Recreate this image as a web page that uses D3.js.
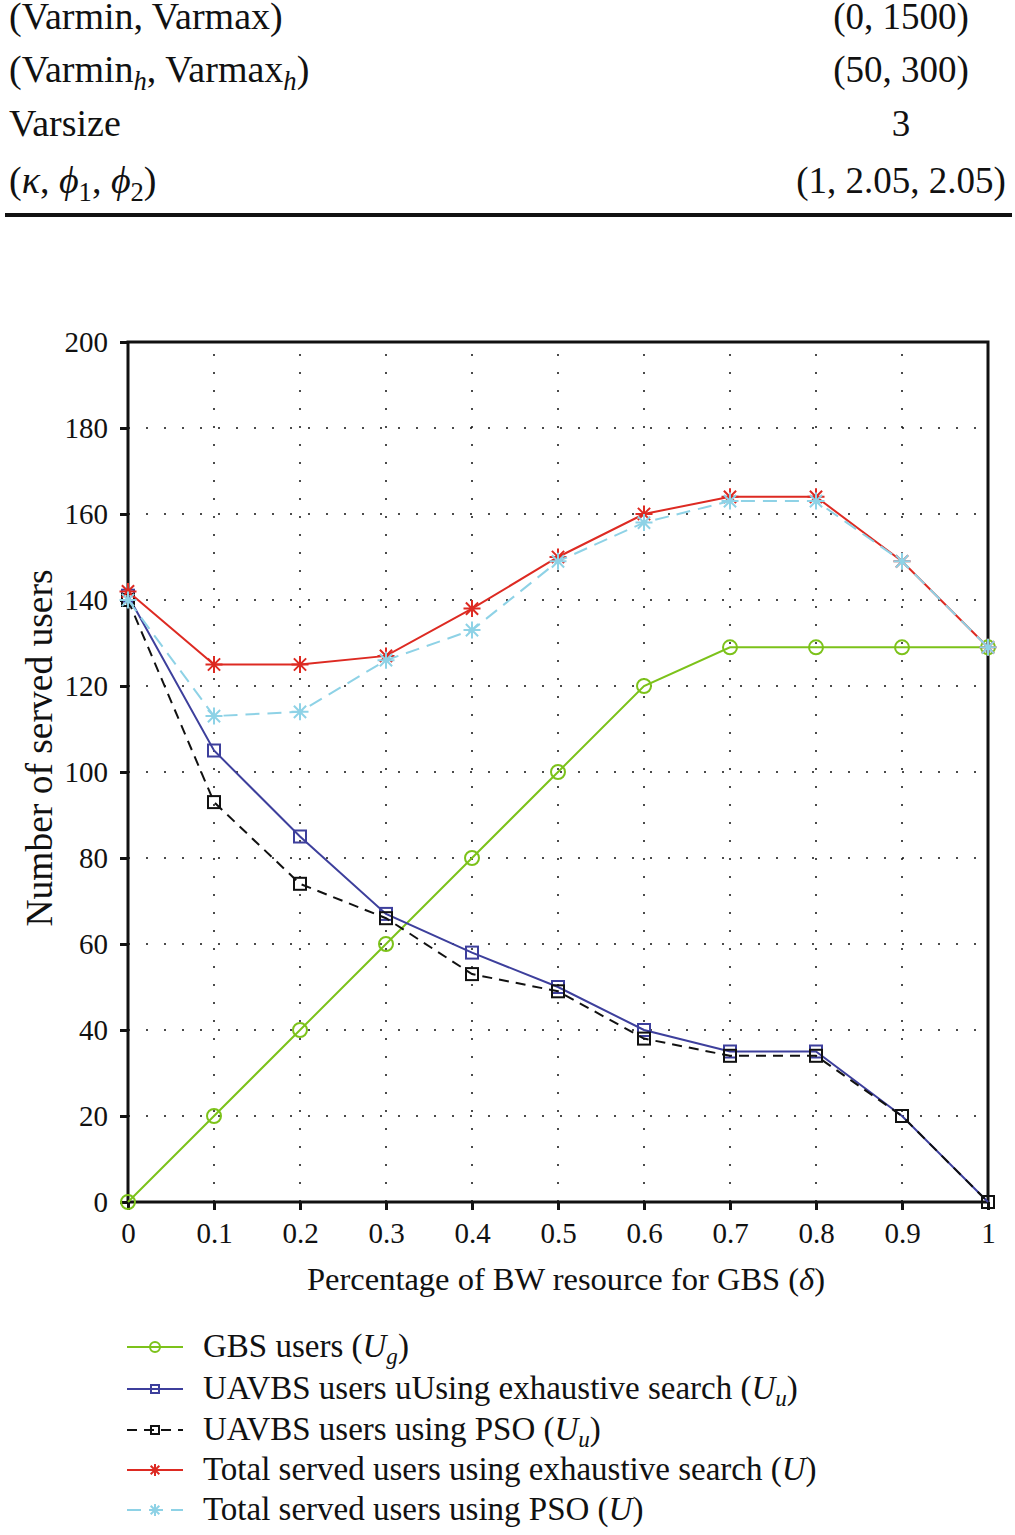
<!DOCTYPE html>
<html>
<head>
<meta charset="utf-8">
<script src="https://cdn.jsdelivr.net/npm/d3@7"></script>
<style>
  body { margin: 0; background: #fff; }
  text { font-family: "Liberation Serif", "Times New Roman", serif; fill: #111; }
</style>
</head>
<body>
<div id="chart"></div>
<script>
// data
var delta = [0, 0.1, 0.2, 0.3, 0.4, 0.5, 0.6, 0.7, 0.8, 0.9, 1];
var gbsUsers = [0, 20, 40, 60, 80, 100, 120, 129, 129, 129, 129];
var uavExh = [141, 105, 85, 67, 58, 50, 40, 35, 35, 20, 0];
var uavPso = [140, 93, 74, 66, 53, 49, 38, 34, 34, 20, 0];
var totalExh = [142, 125, 125, 127, 138, 150, 160, 164, 164, 149, 129];
var totalPso = [140, 113, 114, 126, 133, 149, 158, 163, 163, 149, 129];

var xTicks = [0, 0.1, 0.2, 0.3, 0.4, 0.5, 0.6, 0.7, 0.8, 0.9, 1];
var yTicks = [0, 20, 40, 60, 80, 100, 120, 140, 160, 180, 200];

// table rows above the chart (label parts, value)
var tableRows = [
  { label: [{t: "(Varmin, Varmax)"}], value: "(0, 1500)" },
  { label: [{t: "(Varmin"}, {t: "h", i: true, sub: true}, {t: ", Varmax"}, {t: "h", i: true, sub: true}, {t: ")"}], value: "(50, 300)" },
  { label: [{t: "Varsize"}], value: "3" },
  { label: [{t: "("}, {t: "\u03BA", i: true}, {t: ", "}, {t: "\u03D5", i: true}, {t: "1", sub: true}, {t: ", "}, {t: "\u03D5", i: true}, {t: "2", sub: true}, {t: ")"}], value: "(1, 2.05, 2.05)" }
];

var series = [
  { values: gbsUsers, color: "#7cc21a", dash: null, marker: "circle",
    label: [{t: "GBS users ("}, {t: "U", i: true}, {t: "g", i: true, sub: true}, {t: ")"}] },
  { values: uavExh, color: "#3d3f9c", dash: null, marker: "square",
    label: [{t: "UAVBS users uUsing exhaustive search ("}, {t: "U", i: true}, {t: "u", i: true, sub: true}, {t: ")"}] },
  { values: uavPso, color: "#111111", dash: "10,7", marker: "square",
    label: [{t: "UAVBS users using PSO ("}, {t: "U", i: true}, {t: "u", i: true, sub: true}, {t: ")"}] },
  { values: totalExh, color: "#dd2a22", dash: null, marker: "star",
    label: [{t: "Total served users using exhaustive search ("}, {t: "U", i: true}, {t: ")"}] },
  { values: totalPso, color: "#8ed2e6", dash: "14,8", marker: "star",
    label: [{t: "Total served users using PSO ("}, {t: "U", i: true}, {t: ")"}] }
];

var W = 1015, H = 1535;
var svg = d3.select("#chart").append("svg")
  .attr("width", W).attr("height", H);

function rich(sel, parts, size) {
  var wasSub = false;
  parts.forEach(function(p) {
    var ts = sel.append("tspan").text(p.t);
    if (p.i) ts.attr("font-style", "italic");
    if (p.sub) ts.attr("font-size", size * 0.7).attr("dy", wasSub ? 0 : size * 0.22);
    else if (wasSub) ts.attr("dy", -size * 0.22);
    wasSub = !!p.sub;
  });
}

// table
var tSize = 38;
var rowY = [29, 82, 136, 193];
tableRows.forEach(function(r, i) {
  var t = svg.append("text").attr("x", 9).attr("y", rowY[i]).attr("font-size", tSize);
  rich(t, r.label, tSize);
  svg.append("text").attr("x", 901).attr("y", rowY[i]).attr("font-size", 37)
    .attr("text-anchor", "middle").text(r.value);
});
svg.append("line").attr("x1", 5).attr("x2", 1012).attr("y1", 215).attr("y2", 215)
  .attr("stroke", "#111").attr("stroke-width", 4);

// chart
var mLeft = 128, mRight = 988, mTop = 342, mBottom = 1202;
var x = d3.scaleLinear().domain([0, 1]).range([mLeft, mRight]);
var y = d3.scaleLinear().domain([0, 200]).range([mBottom, mTop]);

var grid = svg.append("g");
xTicks.slice(1, -1).forEach(function(v) {
  grid.append("line").attr("x1", x(v)).attr("x2", x(v)).attr("y1", mBottom).attr("y2", mTop)
    .attr("stroke", "#111").attr("stroke-width", 1.5).attr("stroke-dasharray", "2,16");
});
yTicks.slice(1, -1).forEach(function(v) {
  grid.append("line").attr("x1", mLeft).attr("x2", mRight).attr("y1", y(v)).attr("y2", y(v))
    .attr("stroke", "#111").attr("stroke-width", 1.5).attr("stroke-dasharray", "2,16");
});

var tickSize = 29;
var xAxis = svg.append("g").attr("transform", "translate(0," + mBottom + ")")
  .call(d3.axisBottom(x).tickValues(xTicks).tickSize(8).tickPadding(12)
    .tickFormat(function(d) { return d === 0 ? "0" : d === 1 ? "1" : d3.format(".1f")(d); }));
var yAxis = svg.append("g").attr("transform", "translate(" + mLeft + ",0)")
  .call(d3.axisLeft(y).tickValues(yTicks).tickSize(8).tickPadding(12));
[xAxis, yAxis].forEach(function(a) {
  a.select(".domain").remove();
  a.selectAll(".tick line").attr("stroke", "#111").attr("stroke-width", 3);
  a.selectAll(".tick text").attr("font-size", tickSize)
    .attr("font-family", "Liberation Serif, serif").attr("fill", "#111");
});

// frame
svg.append("rect").attr("x", mLeft).attr("y", mTop).attr("width", mRight - mLeft).attr("height", mBottom - mTop)
  .attr("fill", "none").attr("stroke", "#111").attr("stroke-width", 3);

// axis titles
var labSize = 32.5;
var xt = svg.append("text").attr("x", 566).attr("y", 1290)
  .attr("text-anchor", "middle").attr("font-size", labSize);
rich(xt, [{t: "Percentage of BW resource for GBS ("}, {t: "\u03B4", i: true}, {t: ")"}], labSize);
svg.append("text").attr("transform", "translate(52,748) rotate(-90)")
  .attr("text-anchor", "middle").attr("font-size", 37.5).text("Number of served users");

function drawMarker(g, type, color, cx, cy, s) {
  if (type === "circle") {
    g.append("circle").attr("cx", cx).attr("cy", cy).attr("r", s / 2)
      .attr("fill", "none").attr("stroke", color).attr("stroke-width", 2);
  } else if (type === "square") {
    g.append("rect").attr("x", cx - s / 2).attr("y", cy - s / 2).attr("width", s).attr("height", s)
      .attr("fill", "none").attr("stroke", color).attr("stroke-width", 2);
  } else {
    var r = s / 2, a = r * 0.72;
    g.append("path")
      .attr("d", "M" + cx + "," + (cy - r) + "V" + (cy + r) +
        "M" + (cx - r) + "," + cy + "H" + (cx + r) +
        "M" + (cx - a) + "," + (cy - a) + "L" + (cx + a) + "," + (cy + a) +
        "M" + (cx - a) + "," + (cy + a) + "L" + (cx + a) + "," + (cy - a))
      .attr("stroke", color).attr("stroke-width", 2).attr("fill", "none");
  }
}

var markerSize = { circle: 14, square: 12, star: 17 };
var legMarkerSize = { circle: 10, square: 8, star: 12 };

var line = d3.line().x(function(d, i) { return x(delta[i]); }).y(function(d) { return y(d); });
series.forEach(function(s) {
  var g = svg.append("g");
  g.append("path").datum(s.values).attr("d", line)
    .attr("fill", "none").attr("stroke", s.color).attr("stroke-width", 2)
    .attr("stroke-dasharray", s.dash);
  s.values.forEach(function(v, i) {
    drawMarker(g, s.marker, s.color, x(delta[i]), y(v), markerSize[s.marker]);
  });
});

// legend
var legSize = 33;
var legY = [1347, 1389, 1430, 1470, 1510];
series.forEach(function(s, i) {
  var g = svg.append("g");
  g.append("line").attr("x1", 127).attr("x2", 183).attr("y1", legY[i]).attr("y2", legY[i])
    .attr("stroke", s.color).attr("stroke-width", 2).attr("stroke-dasharray", s.dash);
  drawMarker(g, s.marker, s.color, 155, legY[i], legMarkerSize[s.marker]);
  var t = g.append("text").attr("x", 203).attr("y", legY[i] + 10).attr("font-size", legSize);
  rich(t, s.label, legSize);
});
</script>
</body>
</html>
